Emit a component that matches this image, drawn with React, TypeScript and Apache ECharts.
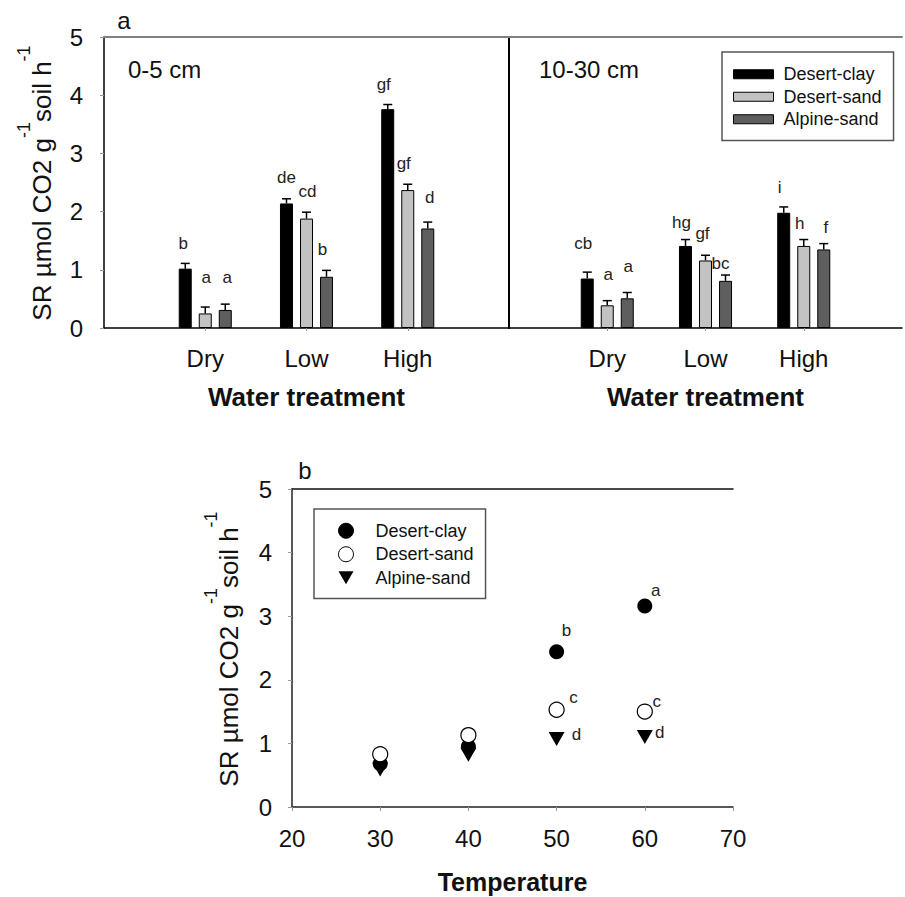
import React, { useEffect, useRef } from 'react';
import * as echarts from 'echarts';

const FONT = '"Liberation Sans", Arial, Helvetica, sans-serif';

// Category axis is padded with empty slots so the groups sit one band in from each edge
const WATER = ['', 'Dry', 'Low', 'High', ''];
const SOILS = ['Desert-clay', 'Desert-sand', 'Alpine-sand'];
const Y_TICKS = [0, 1, 2, 3, 4, 5];
const TEMP_TICKS = [20, 30, 40, 50, 60, 70];

// Panel a, 0-5 cm: mean SR and standard error for Dry / Low / High
const shallowClay = [1.02, 2.14, 3.76];
const shallowClaySE = [0.09, 0.08, 0.08];
const shallowSand = [0.25, 1.88, 2.37];
const shallowSandSE = [0.11, 0.11, 0.1];
const shallowAlpine = [0.31, 0.88, 1.71];
const shallowAlpineSE = [0.1, 0.11, 0.11];
const shallowClayLetters = ['b', 'de', 'gf'];
const shallowSandLetters = ['a', 'cd', 'gf'];
const shallowAlpineLetters = ['a', 'b', 'd'];

// Panel a, 10-30 cm
const deepClay = [0.85, 1.41, 1.98];
const deepClaySE = [0.11, 0.11, 0.1];
const deepSand = [0.39, 1.16, 1.41];
const deepSandSE = [0.08, 0.09, 0.11];
const deepAlpine = [0.51, 0.81, 1.35];
const deepAlpineSE = [0.1, 0.1, 0.1];
const deepClayLetters = ['cb', 'hg', 'i'];
const deepSandLetters = ['a', 'gf', 'h'];
const deepAlpineLetters = ['a', 'bc', 'f'];

// Panel b: SR against incubation temperature
const TEMPS = [30, 40, 50, 60];
const tempClay = [0.68, 0.95, 2.44, 3.16];
const tempSand = [0.83, 1.13, 1.53, 1.5];
const tempAlpine = [0.59, 0.82, 1.07, 1.1];
const tempClayLetters = ['', '', 'b', 'a'];
const tempSandLetters = ['', '', 'c', 'c'];
const tempAlpineLetters = ['', '', 'd', 'd'];

// ---- styling (kept apart from the values) ----
const BAR_FILL = ['#000000', '#c2c2c2', '#5e5e5e'];
const BAR_W = 13;
const SLOT_PX = 20; // centre-to-centre distance of neighbouring bars
const CAP_HALF = 4.5;
// letter offsets [dx, dy] in px from the top of each error bar
const shallowNudge = [
  [[-2, -20], [0, -21], [-4, -20]],
  [[1, -30], [1, -21], [-4, -21]],
  [[2, -27], [-4, -21], [2, -25]],
];
const deepNudge = [
  [[-4, -29], [-4, -17], [-4, -19]],
  [[1, -26], [-3, -22], [-4, -16]],
  [[1, -26], [-5, -12], [2, -16]],
];
const clayNudge = [[0, 0], [0, 0], [10, -21], [11, -16]];
const sandNudge = [[0, 0], [0, 0], [17, -12], [12, -10]];
const alpineNudge = [[0, 0], [0, 0], [20, -4], [15, -5]];

const TRIANGLE = 'path://M0,0L16,0L8,14Z';

function barSeries(panel: number, means: number[][]) {
  return means.map((vals, s) => ({
    type: 'bar',
    name: SOILS[s],
    xAxisIndex: panel,
    yAxisIndex: panel,
    barWidth: BAR_W,
    barGap: '54%',
    itemStyle: { color: BAR_FILL[s], borderColor: '#000', borderWidth: 1 },
    data: vals.map((v, i) => [i + 1, v]),
  }));
}

function errorSeries(
  panel: number,
  means: number[][],
  ses: number[][],
  letters: string[][],
  nudges: number[][][]
) {
  const rows: number[][] = [];
  const texts: string[] = [];
  const offs: number[][] = [];
  means.forEach((vals, s) =>
    vals.forEach((v, i) => {
      rows.push([i + 1, v, ses[s][i], s]);
      texts.push(letters[s][i]);
      offs.push(nudges[s][i]);
    })
  );
  return {
    type: 'custom',
    name: 'se-' + panel,
    xAxisIndex: panel,
    yAxisIndex: panel,
    z: 5,
    data: rows,
    renderItem: (params: any, api: any) => {
      const cat = api.value(0);
      const mean = api.value(1);
      const se = api.value(2);
      const slot = api.value(3);
      const base = api.coord([cat, mean]);
      const top = api.coord([cat, mean + se]);
      const x = base[0] + (slot - 1) * SLOT_PX;
      const off = offs[params.dataIndex];
      const line = { stroke: '#000', lineWidth: 1.5 };
      return {
        type: 'group',
        children: [
          { type: 'line', shape: { x1: x, y1: base[1], x2: x, y2: top[1] }, style: line },
          { type: 'line', shape: { x1: x - CAP_HALF, y1: top[1], x2: x + CAP_HALF, y2: top[1] }, style: line },
          {
            type: 'text',
            x: x + off[0],
            y: top[1] + off[1],
            style: {
              text: texts[params.dataIndex],
              fontSize: 17,
              fontFamily: FONT,
              fill: '#222',
              align: 'center',
              verticalAlign: 'middle',
            },
          },
        ],
      };
    },
  };
}

function scatterSeries(
  name: string,
  vals: number[],
  letters: string[],
  nudges: number[][],
  symbol: string,
  symbolSize: any,
  itemStyle: any,
  z: number
) {
  return {
    type: 'scatter',
    name,
    xAxisIndex: 4,
    yAxisIndex: 2,
    symbol,
    symbolSize,
    itemStyle: { opacity: 1, ...itemStyle },
    z,
    data: TEMPS.map((t, i) => ({
      value: [t, vals[i]],
      label: {
        show: letters[i] !== '',
        formatter: letters[i],
        position: 'inside',
        offset: nudges[i],
        fontSize: 17,
        fontFamily: FONT,
        color: '#222',
      },
    })),
  };
}

const tickLabel = { fontSize: 24, fontFamily: FONT, color: '#111' };
const axisTitle = { fontSize: 25, fontWeight: 'bold', fontFamily: FONT, color: '#111' };

function categoryAxis(grid: number) {
  return {
    type: 'category',
    gridIndex: grid,
    data: WATER,
    boundaryGap: false,
    axisLine: { show: true, lineStyle: { color: '#000', width: 1.5 } },
    axisTick: {
      show: true,
      length: 3,
      interval: (i: number) => i >= 1 && i <= 3,
      lineStyle: { color: '#999' },
    },
    axisLabel: { ...tickLabel, margin: 18, interval: 0 },
    splitLine: { show: false },
    name: 'Water treatment',
    nameLocation: 'middle',
    nameGap: 56,
    nameTextStyle: { ...axisTitle, fontSize: 26 },
  };
}

function borderAxis(grid: number, color: string, width: number) {
  return {
    type: 'value',
    gridIndex: grid,
    position: 'top',
    min: 0,
    max: 1,
    axisLine: { show: true, lineStyle: { color, width } },
    axisTick: { show: false },
    axisLabel: { show: false },
    splitLine: { show: false },
  };
}

function yTitle(x: number, y: number) {
  return {
    type: 'text',
    x,
    y,
    rotation: Math.PI / 2,
    style: {
      text: '{m|SR \u00b5mol CO2 g}{s|-1}{m|soil h}{s|-1}',
      align: 'center',
      verticalAlign: 'middle',
      fill: '#111',
      fontFamily: FONT,
      rich: {
        m: { fontSize: 26, lineHeight: 54, fontFamily: FONT, fill: '#111', verticalAlign: 'middle' },
        s: { fontSize: 18, lineHeight: 18, fontFamily: FONT, fill: '#111', verticalAlign: 'top' },
      },
    },
  };
}

function plainText(x: number, y: number, text: string, size: number, align: string) {
  return {
    type: 'text',
    x,
    y,
    style: { text, fontSize: size, fontFamily: FONT, fill: '#111', align, verticalAlign: 'middle' },
  };
}

export default function App() {
  const ref = useRef<HTMLDivElement>(null);

  useEffect(() => {
    if (!ref.current) return;
    const chart = echarts.init(ref.current, null, { renderer: 'svg' });

    const shallowMeans = [shallowClay, shallowSand, shallowAlpine];
    const shallowSEs = [shallowClaySE, shallowSandSE, shallowAlpineSE];
    const shallowLetters = [shallowClayLetters, shallowSandLetters, shallowAlpineLetters];
    const deepMeans = [deepClay, deepSand, deepAlpine];
    const deepSEs = [deepClaySE, deepSandSE, deepAlpineSE];
    const deepLetters = [deepClayLetters, deepSandLetters, deepAlpineLetters];

    chart.setOption({
      animation: false,
      backgroundColor: '#ffffff',
      grid: [
        { left: 104, top: 37, width: 405, height: 291 },
        { left: 509, top: 37, width: 404, height: 291 },
        { left: 292, top: 489, width: 441, height: 318 },
      ],
      xAxis: [
        categoryAxis(0),
        categoryAxis(1),
        borderAxis(0, '#808080', 2),
        borderAxis(1, '#808080', 2),
        {
          type: 'value',
          gridIndex: 2,
          min: TEMP_TICKS[0],
          max: TEMP_TICKS[TEMP_TICKS.length - 1],
          interval: 10,
          axisLine: { show: true, lineStyle: { color: '#222', width: 1.5 } },
          axisTick: { show: true, length: 4, lineStyle: { color: '#999' } },
          axisLabel: { ...tickLabel, margin: 19 },
          splitLine: { show: false },
          name: 'Temperature',
          nameLocation: 'middle',
          nameGap: 62,
          nameTextStyle: axisTitle,
        },
        borderAxis(2, '#111', 1.5),
      ],
      yAxis: [
        {
          type: 'value',
          gridIndex: 0,
          min: Y_TICKS[0],
          max: Y_TICKS[Y_TICKS.length - 1],
          interval: 1,
          axisLine: { show: true, lineStyle: { color: '#000', width: 1.5 } },
          axisTick: { show: true, length: 4, lineStyle: { color: '#999' } },
          axisLabel: { ...tickLabel, margin: 21 },
          splitLine: { show: false },
        },
        {
          type: 'value',
          gridIndex: 1,
          min: Y_TICKS[0],
          max: Y_TICKS[Y_TICKS.length - 1],
          interval: 1,
          axisLine: { show: true, lineStyle: { color: '#000', width: 2 } },
          axisTick: { show: false },
          axisLabel: { show: false },
          splitLine: { show: false },
        },
        {
          type: 'value',
          gridIndex: 2,
          min: Y_TICKS[0],
          max: Y_TICKS[Y_TICKS.length - 1],
          interval: 1,
          axisLine: { show: true, lineStyle: { color: '#222', width: 1.5 } },
          axisTick: { show: true, length: 4, lineStyle: { color: '#999' } },
          axisLabel: { ...tickLabel, margin: 20 },
          splitLine: { show: false },
        },
      ],
      legend: [
        {
          left: 722,
          top: 52,
          orient: 'vertical',
          selectedMode: false,
          itemWidth: 40,
          itemHeight: 9,
          itemGap: 0,
          padding: [11, 12, 10, 11],
          borderColor: '#555',
          borderWidth: 1.5,
          textStyle: { fontSize: 18, fontFamily: FONT, color: '#111', lineHeight: 22.5, padding: [0, 0, 0, 5] },
          data: SOILS.map((n, s) => ({
            name: n,
            icon: 'rect',
            itemStyle: { color: BAR_FILL[s], borderColor: '#000', borderWidth: 1 },
          })),
        },
        {
          left: 314,
          top: 509,
          orient: 'vertical',
          selectedMode: false,
          itemWidth: 15,
          itemHeight: 15,
          itemGap: 0,
          padding: [10, 12, 9, 24],
          borderColor: '#555',
          borderWidth: 1.5,
          textStyle: { fontSize: 18, fontFamily: FONT, color: '#111', lineHeight: 23.5, padding: [0, 0, 0, 17] },
          data: [
            { name: SOILS[0], icon: 'circle', itemStyle: { color: '#000', borderColor: '#000', borderWidth: 1, opacity: 1 } },
            { name: SOILS[1], icon: 'circle', itemStyle: { color: '#fff', borderColor: '#000', borderWidth: 1, opacity: 1 } },
            { name: SOILS[2], icon: TRIANGLE, itemStyle: { color: '#000', borderWidth: 0, opacity: 1 } },
          ],
        },
      ],
      series: [
        ...barSeries(0, shallowMeans),
        ...barSeries(1, deepMeans),
        errorSeries(0, shallowMeans, shallowSEs, shallowLetters, shallowNudge),
        errorSeries(1, deepMeans, deepSEs, deepLetters, deepNudge),
        scatterSeries(SOILS[0], tempClay, tempClayLetters, clayNudge, 'circle', 15, { color: '#000' }, 2),
        scatterSeries(SOILS[1], tempSand, tempSandLetters, sandNudge, 'circle', 15, {
          color: '#fff',
          borderColor: '#000',
          borderWidth: 1.2,
        }, 3),
        scatterSeries(SOILS[2], tempAlpine, tempAlpineLetters, alpineNudge, TRIANGLE, [16, 14], { color: '#000' }, 4),
      ],
      graphic: [
        plainText(124, 20, 'a', 24, 'center'),
        plainText(128, 69, '0-5 cm', 24, 'left'),
        plainText(539, 69, '10-30 cm', 24, 'left'),
        plainText(305, 470, 'b', 24, 'center'),
        yTitle(42, 183),
        yTitle(229, 649),
      ],
    });

    return () => chart.dispose();
  }, []);

  return (
    <div
      ref={ref}
      style={{ position: 'absolute', left: 0, top: 0, width: 905, height: 897, background: '#fff' }}
    />
  );
}
